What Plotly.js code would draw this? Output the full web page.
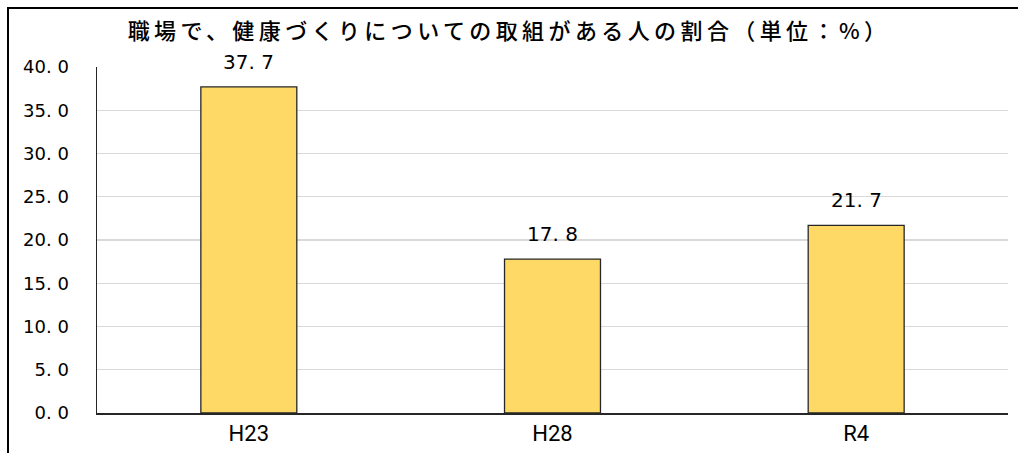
<!DOCTYPE html>
<html>
<head>
<meta charset="utf-8">
<script src="https://cdn.plot.ly/plotly-3.0.1.min.js"></script>
<style>
  html, body { margin: 0; padding: 0; background: #fff; }
  #wrap { position: relative; width: 1018px; height: 453px; overflow: hidden; }
  #chart { position: absolute; left: 0; top: 0; width: 1018px; height: 453px; }
  #frame { position: absolute; left: 7px; top: 7px; width: 1100px; height: 600px;
           border: 2px solid #000; pointer-events: none; }
  .gtitle { letter-spacing: 4.4px; }
</style>
</head>
<body>
<div id="wrap">
  <div id="chart"></div>
  <div id="frame"></div>
</div>
<script>
const categories = ["H23", "H28", "R4"];
const values = [37.7, 17.8, 21.7];
const valueLabels = ["37. 7", "17. 8", "21. 7"];
const tickVals = [0, 5, 10, 15, 20, 25, 30, 35, 40];
const tickText = ["0. 0", "5. 0", "10. 0", "15. 0", "20. 0", "25. 0", "30. 0", "35. 0", "40. 0"];
const titleText = "職場で、健康づくりについての取組がある人の割合（単位：%）";

const trace = {
  type: "bar",
  x: categories,
  y: values,
  marker: { color: "#FFD966", line: { color: "#262626", width: 1.3 } },
  hoverinfo: "none"
};

const annotations = categories.map((c, i) => ({
  x: c, y: values[i], xref: "x", yref: "y",
  text: valueLabels[i], showarrow: false,
  yanchor: "bottom", yshift: 11,
  font: { family: "DejaVu Sans", size: 20, color: "#000" }
}));

const layout = {
  width: 1018, height: 453,
  margin: { l: 97, r: 10, t: 67, b: 40 },
  paper_bgcolor: "#fff",
  plot_bgcolor: "#fff",
  bargap: 0.684,
  showlegend: false,
  title: {
    text: titleText,
    x: 0.5, xanchor: "center",
    y: 0.93, yanchor: "middle",
    yref: "container",
    font: { family: "Noto Sans CJK JP", size: 22, color: "#000", weight: 500 }
  },
  xaxis: {
    type: "category",
    showline: true, linecolor: "#262626", linewidth: 1.5,
    ticks: "", showgrid: false,
    tickfont: { family: "Roboto", size: 22, color: "#000" },
    fixedrange: true
  },
  yaxis: {
    range: [0, 40],
    tickvals: tickVals, ticktext: tickText,
    showline: true, linecolor: "#262626", linewidth: 1.5,
    ticks: "", ticklen: 0,
    showgrid: true, gridcolor: "#d9d9d9", gridwidth: 1.3,
    zeroline: false,
    tickfont: { family: "DejaVu Sans", size: 18, color: "#000" },
    ticklabelstandoff: 23,
    fixedrange: true
  },
  annotations: annotations
};

Plotly.newPlot("chart", [trace], layout, { displayModeBar: false, staticPlot: true });
</script>
</body>
</html>
